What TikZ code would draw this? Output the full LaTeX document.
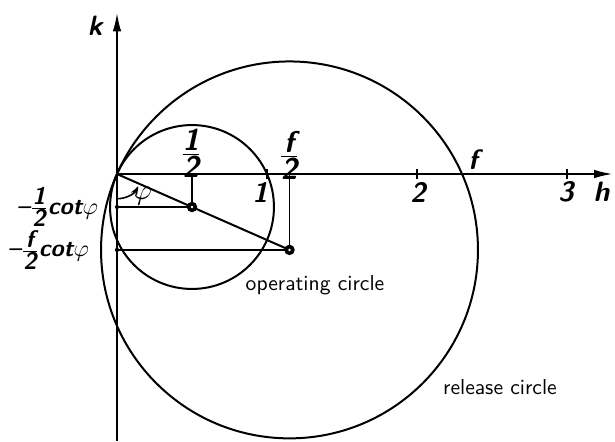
\documentclass[tikz,border=0pt]{standalone}
\usepackage{fontspec}
\usepackage{tikz}
\usetikzlibrary{arrows.meta, positioning}

% slanted sans labels, fractions built from them
\newcommand{\lab}[1]{{\sffamily\bfseries\slshape #1}}
\newcommand{\fr}[2]{$\frac{\hbox{\sffamily\bfseries\slshape #1}}{\hbox{\sffamily\bfseries\slshape #2}}$}

\begin{document}
\begin{tikzpicture}[
  x=75pt, y=75pt,
  line width=1pt,
  axis/.style={line width=1.2pt, -{Latex[length=3.4mm, width=1.5mm]}},
  thin/.style={line width=0.8pt},
  lbl/.style={inner sep=0pt, font=\fontsize{14}{16}\selectfont},
  frlbl/.style={inner sep=0pt, font=\fontsize{15}{17}\selectfont},
  kval/.style={inner sep=0pt, anchor=east, font=\fontsize{12}{14}\selectfont},
  txt/.style={inner sep=0pt, font=\sffamily\fontsize{10.8}{13}\selectfont},
  ctr/.style={fill=black}
]
\useasboundingbox (-0.78,-1.78) rectangle (3.32,1.16);

% origin, centres and their projections on the axes
\coordinate (O) at (0,0);
\coordinate (C1) at (0.5,-0.22);
\coordinate (C2) at (1.15,-0.506);
\coordinate (H1) at (0.5,0);
\coordinate (H2) at (1.15,0);
\coordinate (K1) at (0,-0.22);
\coordinate (K2) at (0,-0.506);
\coordinate (kbot) at (0,-1.78);
\coordinate (ktop) at (0,1.08);
\coordinate (hend) at (3.31,0);

% axes
\draw[axis] (kbot) -- (ktop);
\draw[axis] (O) -- (hend);
\foreach \x in {1,2,3} \draw[thin] (\x,-0.035) -- (\x,0.035);

% operating and release circles
\draw (C1) circle (0.5463);
\draw (C2) circle (1.2564);

% construction lines
\draw (O) -- (C2);
\draw[thin] (H1) -- (C1);
\draw[thin] (H2) -- (C2);
\draw[thin] (K1) -- (C1);
\draw[thin] (K2) -- (C2);
\draw[thin, -{Stealth[length=1.6mm, width=1.2mm]}] ([shift={(270:0.165)}]O) arc (270:330:0.165);

% centres
\foreach \c in {C1,C2} {
  \fill[ctr] (\c) circle (0.035);
  \fill[white] (\c) circle (0.009);
}
\foreach \c in {K1,K2} \fill[ctr] (\c) circle (0.014);

% labels
\node[lbl] (klab) at (-0.147,0.99) {\lab{k}};
\node[lbl] (hlab) at (3.23,-0.12) {\lab{h}};
\node[lbl] (one) at (0.953,-0.12) {\lab{1}};
\node[lbl] (two) at (2.007,-0.12) {\lab{2}};
\node[lbl] (three) at (2.993,-0.12) {\lab{3}};
\node[lbl] (flab) at (2.373,0.093) {\lab{f}};
\node[frlbl] (half) at (0.493,0.14) {\fr{1}{2}};
\node[frlbl] (fhalf) at (1.147,0.125) {\fr{f}{2}};
\node[frlbl] (phi) at (0.17,-0.15) {$\varphi$};
\node[kval] (k1lab) at (-0.12,-0.22) {\lab{--}\fr{1}{2}\lab{cot}$\varphi$};
\node[kval] (k2lab) at (-0.18,-0.506) {\lab{--}\fr{f}{2}\lab{cot}$\varphi$};
\node[txt] (oper) at (1.32,-0.74) {operating circle};
\node[txt] (rel) at (2.553,-1.42) {release circle};
\end{tikzpicture}
\end{document}
